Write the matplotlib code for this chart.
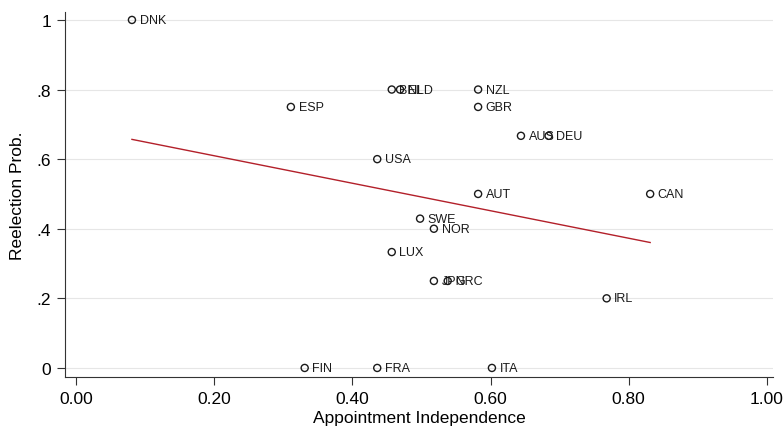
import matplotlib
matplotlib.use('Agg')
import matplotlib.pyplot as plt
import numpy as np

plt.rcParams['font.family'] = ['Liberation Sans', 'DejaVu Sans']

# country, appointment independence, reelection probability
countries = ['DNK', 'ESP', 'BEL', 'NLD', 'NZL', 'GBR', 'AUS', 'DEU', 'USA', 'AUT',
             'CAN', 'SWE', 'NOR', 'LUX', 'JPN', 'GRC', 'IRL', 'FIN', 'FRA', 'ITA']
indep = [0.081, 0.311, 0.457, 0.469, 0.582, 0.582, 0.644, 0.684, 0.436, 0.582,
         0.831, 0.498, 0.518, 0.457, 0.518, 0.538, 0.768, 0.331, 0.436, 0.602]
reelect = [1.0, 0.75, 0.8, 0.8, 0.8, 0.75, 0.667, 0.667, 0.6, 0.5,
           0.5, 0.429, 0.4, 0.333, 0.25, 0.25, 0.2, 0.0, 0.0, 0.0]

x = np.array(indep)
y = np.array(reelect)

fig = plt.figure(figsize=(7.84, 4.31), dpi=100)
ax = fig.add_axes([0.0829, 0.123, 0.903, 0.847])

ax.scatter(x, y, s=26, facecolors='none', edgecolors='#1a1a1a', linewidths=1.0, zorder=3)
for c, xi, yi in zip(countries, x, y):
    ax.annotate(c, (xi, yi), xytext=(5.5, 0), textcoords='offset points',
                va='center', ha='left', fontsize=9, color='#1a1a1a', zorder=4)

# linear fit
b, a = np.polyfit(x, y, 1)
xs = np.array([x.min(), x.max()])
ax.plot(xs, a + b * xs, color='#b3202a', lw=1.0, zorder=2)

ax.set_xlim(-0.0159, 1.0087)
ax.set_ylim(-0.026, 1.023)
ax.set_xticks([0, 0.2, 0.4, 0.6, 0.8, 1.0])
ax.set_xticklabels(['0.00', '0.20', '0.40', '0.60', '0.80', '1.00'])
ax.set_yticks([0, 0.2, 0.4, 0.6, 0.8, 1.0])
ax.set_yticklabels(['0', '.2', '.4', '.6', '.8', '1'])
ax.tick_params(labelsize=12.5, length=6, pad=4, color='#333333')
ax.yaxis.grid(True, color='#e6e6e6', lw=0.8)
ax.set_axisbelow(True)
for s in ['top', 'right']:
    ax.spines[s].set_visible(False)
for s in ['left', 'bottom']:
    ax.spines[s].set_color('#333333')

ax.set_xlabel('Appointment Independence', fontsize=12.5)
ax.set_ylabel('Reelection Prob.', fontsize=12.5)
ax.xaxis.set_label_coords(0.5, -0.09)
ax.yaxis.set_label_coords(-0.057, 0.5)

plt.savefig('out.png', dpi=100)
plt.close()
